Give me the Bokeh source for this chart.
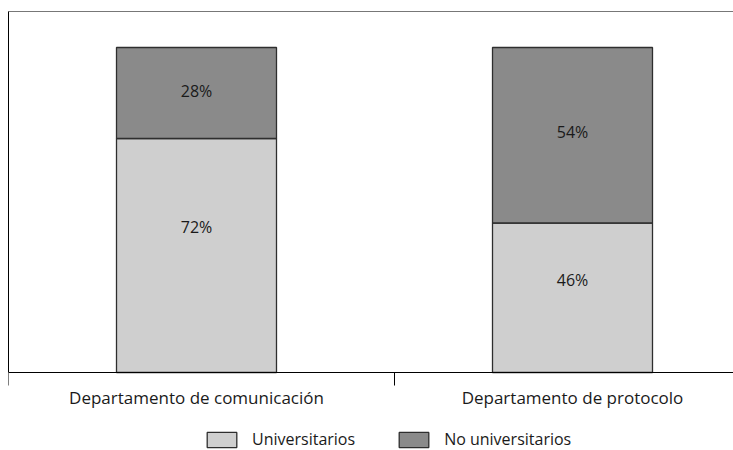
from bokeh.plotting import figure
from bokeh.models import (ColumnDataSource, Range1d, FixedTicker, LinearAxis,
                          Legend, LegendItem)
from bokeh.core.properties import value
from bokeh.embed import file_html
from bokeh.resources import INLINE

# Data
departments = ["Departamento de comunicación", "Departamento de protocolo"]
universitarios = [72, 46]
no_universitarios = [28, 54]
series_names = ["Universitarios", "No universitarios"]

LIGHT = "#cfcfcf"
DARK = "#8a8a8a"
EDGE = "#2e2e2e"
FONT = "Open Sans"

PX_X = 376.0   # pixels per category unit
PX_Y = 3.25    # pixels per percentage point

centers = [i + 0.5 for i in range(len(departments))]
separators = [0.0, 1.027]

source = ColumnDataSource(dict(x=centers, uni=universitarios, nouni=no_universitarios))

p = figure(width=733, height=450, output_backend="svg", toolbar_location=None,
           x_range=Range1d(0, 725 / PX_X), y_range=Range1d(-78 / PX_Y, 361 / PX_Y),
           min_border_left=8, min_border_right=0, min_border_top=11, min_border_bottom=0)
p.outline_line_color = None
p.grid.visible = False
p.background_fill_color = "white"
p.border_fill_color = "white"

bars = p.vbar_stack(["uni", "nouni"], x="x", width=160 / PX_X, source=source,
                    fill_color=[LIGHT, DARK], line_color=EDGE, line_width=1.3)

# Percent labels inside each segment
lab_x, lab_y, lab_t = [], [], []
for c, u, n in zip(centers, universitarios, no_universitarios):
    lab_x += [c, c]
    lab_y += [u * 0.62, u + n * 0.52]
    lab_t += [f"{u}%", f"{n}%"]
p.text(x=lab_x, y=lab_y, text=lab_t, text_font=value(FONT), text_font_size="16px",
       text_align="center", text_baseline="middle", text_color="#1a1a1a")

# Bottom axis sits at zero: category names centred, separators as ticks
xa = p.xaxis[0]
xa.fixed_location = 0
xa.ticker = FixedTicker(ticks=centers, minor_ticks=separators)
xa.major_label_overrides = {c: d for c, d in zip(centers, departments)}
xa.major_tick_out = 0
xa.major_tick_in = 0
xa.minor_tick_out = 13
xa.minor_tick_in = 0
xa.minor_tick_line_color = "black"
xa.axis_line_color = "black"
xa.major_label_standoff = 0
xa.major_label_text_font = FONT
xa.major_label_text_font_size = "17px"
xa.major_label_text_color = "#1a1a1a"

# Left axis: plain line from zero to the top
ya = p.yaxis[0]
ya.bounds = (0, 361 / PX_Y)
ya.ticker = FixedTicker(ticks=[])
ya.major_tick_out = 0
ya.major_tick_in = 0
ya.minor_tick_out = 0
ya.minor_tick_in = 0
ya.major_label_text_font_size = "0px"
ya.axis_line_color = "black"

# Top edge line
top = LinearAxis(ticker=FixedTicker(ticks=[]), major_tick_out=0, major_tick_in=0,
                 minor_tick_out=0, minor_tick_in=0, major_label_text_font_size="0px",
                 axis_line_color="#777777")
p.add_layout(top, "above")

# Legend along the bottom edge
legend = Legend(items=[LegendItem(label=series_names[0], renderers=[bars[0]]),
                       LegendItem(label=series_names[1], renderers=[bars[1]])],
                orientation="horizontal", location=(195, 0),
                glyph_width=37, glyph_height=19, label_standoff=12, spacing=40,
                padding=0, margin=0, border_line_color=None, background_fill_alpha=0,
                label_text_font=FONT, label_text_font_size="16px",
                label_text_color="#1a1a1a")
p.add_layout(legend, "center")

open("out.html", "w").write(file_html(p, INLINE))
